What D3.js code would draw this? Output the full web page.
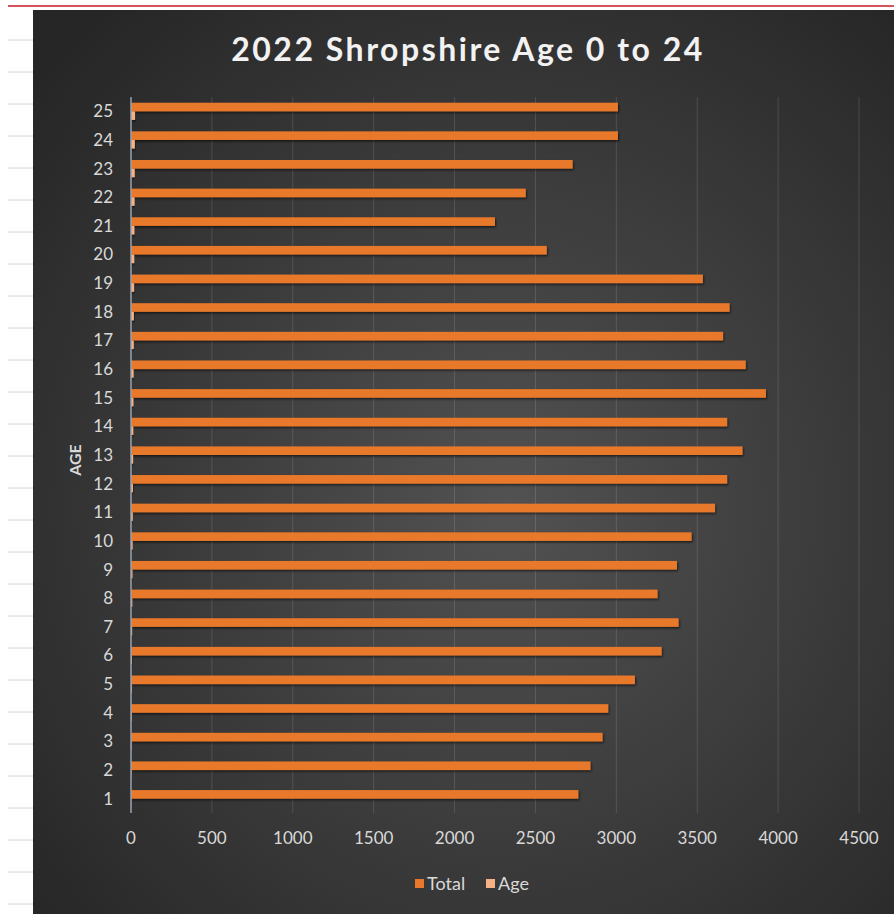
<!DOCTYPE html>
<html>
<head>
<meta charset="utf-8">
<script src="https://cdn.jsdelivr.net/npm/d3@7"></script>
<style>
  body { margin: 0; background: #fff; }
  text { font-family: Lato, "Open Sans", sans-serif; }
</style>
</head>
<body>
<div id="chart"></div>
<script>
// chart data
var ages = [1, 2, 3, 4, 5, 6, 7, 8, 9, 10, 11, 12, 13, 14, 15, 16, 17, 18, 19, 20, 21, 22, 23, 24, 25];
var totals = [2765, 2840, 2915, 2950, 3115, 3280, 3385, 3255, 3375, 3465, 3610, 3685, 3780, 3685,
              3925, 3800, 3660, 3700, 3535, 2570, 2250, 2440, 2730, 3010, 3010];
var ageValues = [1, 2, 3, 4, 5, 6, 7, 8, 9, 10, 11, 12, 13, 14, 15, 16, 17, 18, 19, 20, 21, 22, 23, 24, 25];
var seriesNames = ["Total", "Age"];
var xTicks = [0, 500, 1000, 1500, 2000, 2500, 3000, 3500, 4000, 4500];

var width = 894, height = 914;
var colors = { Total: "#e8792c", Age: "#f4b183" };

var svg = d3.select("#chart").append("svg")
    .attr("width", width)
    .attr("height", height);

var defs = svg.append("defs");
var grad = defs.append("radialGradient")
    .attr("id", "bg")
    .attr("cx", "55%").attr("cy", "55%").attr("r", "72%");
grad.append("stop").attr("offset", "0%").attr("stop-color", "#525252");
grad.append("stop").attr("offset", "100%").attr("stop-color", "#262626");

var shadow = defs.append("filter").attr("id", "shadow")
    .attr("x", "-5%").attr("y", "-50%").attr("width", "110%").attr("height", "200%");
shadow.append("feDropShadow")
    .attr("dx", 1).attr("dy", 1.5).attr("stdDeviation", 1)
    .attr("flood-color", "#000").attr("flood-opacity", 0.6);

// spreadsheet strip behind the chart
var rows = d3.range(40, height, 32);
svg.selectAll(".sheetline")
    .data(rows)
    .join("line")
    .attr("class", "sheetline")
    .attr("x1", 8).attr("x2", 33)
    .attr("y1", d => d).attr("y2", d => d)
    .attr("stroke", "#d6d6d6");
svg.append("rect")
    .attr("x", 8).attr("y", 5).attr("width", width - 8).attr("height", 2)
    .attr("fill", "#d5545a");

// chart area
svg.append("rect")
    .attr("x", 33).attr("y", 10)
    .attr("width", width - 33).attr("height", height - 10)
    .attr("fill", "url(#bg)");

var x = d3.scaleLinear().domain([0, 4500]).range([131, 859]);
var y = d3.scaleBand()
    .domain(ages.slice().reverse())
    .range([97, 813])
    .paddingInner(0.4)
    .paddingOuter(0.2);
var ySub = d3.scaleBand()
    .domain(seriesNames)
    .range([0, y.bandwidth()]);

// gridlines
svg.append("g")
    .selectAll("line")
    .data(xTicks.slice(1))
    .join("line")
    .attr("x1", d => x(d)).attr("x2", d => x(d))
    .attr("y1", 97).attr("y2", 813)
    .attr("stroke", "rgba(255,255,255,0.13)");

// bars
var data = ages.map(function(a, i) {
    return { age: a, Total: totals[i], Age: ageValues[i] };
});

var groups = svg.append("g")
    .selectAll("g")
    .data(data)
    .join("g")
    .attr("transform", d => "translate(0," + y(d.age) + ")");

groups.selectAll("rect")
    .data(d => seriesNames.map(k => ({ key: k, value: d[k] })))
    .join("rect")
    .attr("x", x(0))
    .attr("y", d => ySub(d.key))
    .attr("width", d => x(d.value) - x(0))
    .attr("height", ySub.bandwidth())
    .attr("fill", d => colors[d.key])
    .attr("filter", "url(#shadow)");

// axis line
svg.append("line")
    .attr("x1", x(0)).attr("x2", x(0))
    .attr("y1", 97).attr("y2", 813)
    .attr("stroke", "#98a2ae")
    .attr("stroke-width", 1.5);

// y labels
svg.append("g")
    .selectAll("text")
    .data(ages)
    .join("text")
    .attr("x", 113)
    .attr("y", d => y(d) + y.bandwidth() / 2)
    .attr("dy", "0.35em")
    .attr("text-anchor", "end")
    .attr("font-size", 17)
    .attr("fill", "#d9d9d9")
    .text(d => d);

// x labels
svg.append("g")
    .selectAll("text")
    .data(xTicks)
    .join("text")
    .attr("x", d => x(d))
    .attr("y", 838)
    .attr("dy", "0.35em")
    .attr("text-anchor", "middle")
    .attr("font-size", 17)
    .attr("fill", "#d9d9d9")
    .text(d => d);

// title
svg.append("text")
    .attr("x", 468)
    .attr("y", 61)
    .attr("text-anchor", "middle")
    .attr("font-size", 32)
    .attr("font-weight", "bold")
    .attr("fill", "#f2f2f2")
    .style("letter-spacing", "2.5px")
    .text("2022 Shropshire Age 0 to 24");

// axis title
svg.append("text")
    .attr("transform", "translate(81,460) rotate(-90)")
    .attr("text-anchor", "middle")
    .attr("font-size", 16)
    .attr("font-weight", "bold")
    .attr("fill", "#d9d9d9")
    .text("AGE");

// legend
var legend = svg.append("g")
    .selectAll("g")
    .data(seriesNames)
    .join("g")
    .attr("transform", (d, i) => "translate(415," + 879 + ")translate(" + (i * 71) + ",0)");
legend.append("rect")
    .attr("width", 9).attr("height", 9)
    .attr("fill", d => colors[d]);
legend.append("text")
    .attr("x", 12).attr("y", 5)
    .attr("dy", "0.35em")
    .attr("font-size", 18)
    .attr("fill", "#d9d9d9")
    .text(d => d);
</script>
</body>
</html>
